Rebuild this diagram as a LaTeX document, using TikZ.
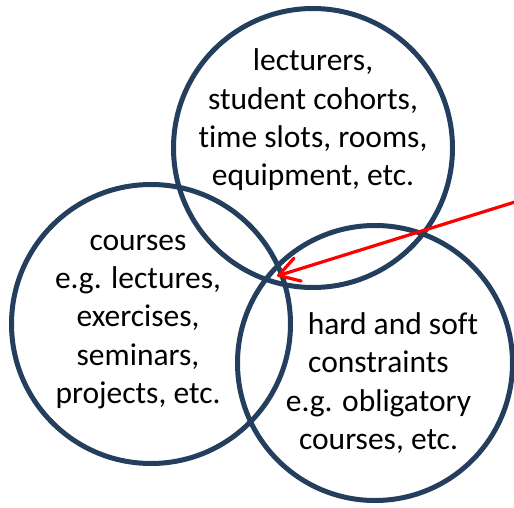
\documentclass[tikz,border=0pt]{standalone}
\usepackage{fontspec}
\setmainfont{Carlito}[Ligatures=CommonOff]
\usepackage{tikz}
\usetikzlibrary{arrows.meta,positioning}
\definecolor{ringc}{RGB}{36,63,94}
\definecolor{arrc}{RGB}{255,0,0}

\begin{document}
\begin{tikzpicture}[x=1pt,y=1pt,
    ring/.style={circle,draw=ringc,line width=5pt,inner sep=0pt},
    lbl/.style={align=center,font=\fontsize{31.5}{38.4}\selectfont}]
  \useasboundingbox (0,0) rectangle (514,507);
  % the three sets
  \node[ring,minimum size=279pt] (res) at (313,359) {};
  \node[ring,minimum size=279pt] (crs) at (151,183) {};
  \node[ring,minimum size=275pt] (cons) at (375,144) {};
  \node[lbl] (restxt) at (313,387) {lecturers,\\ student cohorts,\\ time slots, rooms,\\ equipment, etc.};
  \node[lbl] (crstxt) at (138,185) {courses\\ e.g. lectures,\\ exercises,\\ seminars,\\ projects, etc.};
  \node[lbl] (constxt) at (378.5,124) {\hspace*{29pt}hard and soft\\ constraints\\ e.g. obligatory\\ courses, etc.};
  % pointer into the common part
  \coordinate (src) at (515,305);
  \coordinate (mid) at (277,231);
  \draw[arrc,line width=3.2pt,-{Straight Barb[length=20pt,width=24pt,round]}] (src) -- (mid);
\end{tikzpicture}
\end{document}
